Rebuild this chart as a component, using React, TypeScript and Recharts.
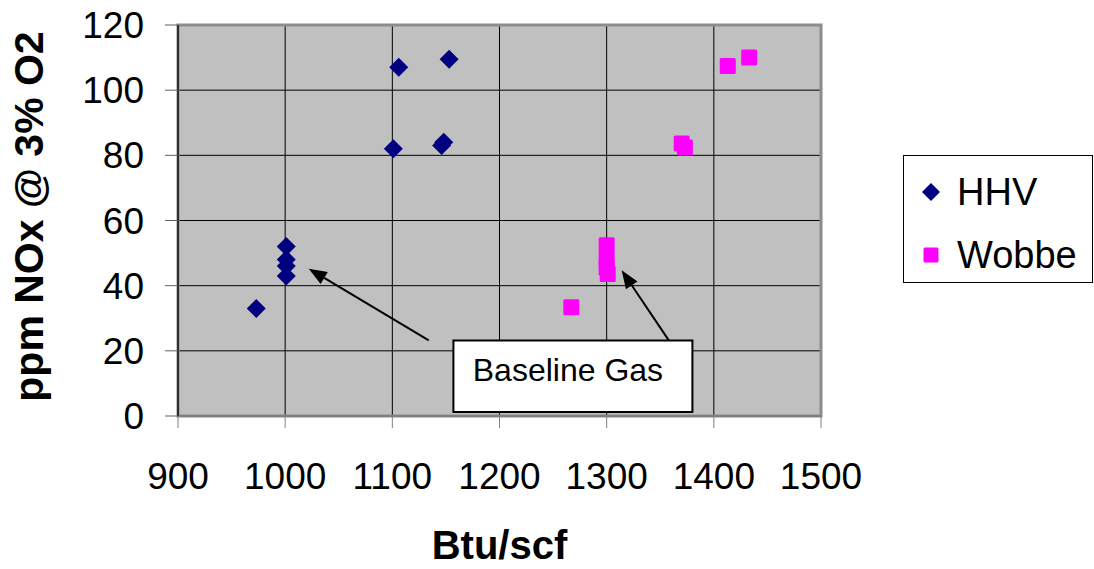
import {
  CartesianGrid, Label, Legend, ReferenceArea, ReferenceLine, Scatter, ScatterChart, XAxis, YAxis,
} from 'recharts'

const FONT = '"Liberation Sans", Arial, sans-serif'

const xTicks = [900, 1000, 1100, 1200, 1300, 1400, 1500]
const yTicks = [0, 20, 40, 60, 80, 100, 120]

const hhvPoints = [
  { x: 973, y: 33 },
  { x: 1001, y: 52 },
  { x: 1001, y: 48 },
  { x: 1001, y: 46 },
  { x: 1001, y: 43 },
  { x: 1101, y: 82 },
  { x: 1106, y: 107 },
  { x: 1146, y: 83 },
  { x: 1148, y: 84 },
  { x: 1153, y: 109.5 },
]

const wobbePoints = [
  { x: 1267, y: 33.4 },
  { x: 1300, y: 52.4 },
  { x: 1300, y: 48 },
  { x: 1300, y: 45.5 },
  { x: 1301, y: 43.6 },
  { x: 1370, y: 83.6 },
  { x: 1373, y: 82.4 },
  { x: 1413, y: 107.4 },
  { x: 1433, y: 110 },
]

// annotation: box and two arrows pointing at the baseline points
const calloutBox = { x1: 1157, x2: 1380, y1: 1.2, y2: 23.2 }
const arrows = [
  { from: { x: 1134, y: 23.2 }, to: { x: 1022, y: 45.2 } },
  { from: { x: 1358, y: 23.2 }, to: { x: 1314, y: 44.7 } },
]

const NAVY = '#000080'
const MAGENTA = '#FF00FF'

function Diamond({ cx, cy, fill, r = 9.5 }: any) {
  return <polygon points={`${cx},${cy - r} ${cx + r},${cy} ${cx},${cy + r} ${cx - r},${cy}`} fill={fill} />
}

function Square({ cx, cy, fill, s = 16 }: any) {
  return <rect x={cx - s / 2} y={cy - s / 2} width={s} height={s} rx={1.5} fill={fill} />
}

function Arrow(props: any) {
  const { x1, y1, x2, y2 } = props
  const ang = Math.atan2(y2 - y1, x2 - x1)
  const len = 18
  const w = 7
  const bx = x2 - len * Math.cos(ang)
  const by = y2 - len * Math.sin(ang)
  const px = -Math.sin(ang) * w
  const py = Math.cos(ang) * w
  return (
    <g>
      <line x1={x1} y1={y1} x2={bx} y2={by} stroke="#000" strokeWidth={2} />
      <polygon points={`${x2},${y2} ${bx + px},${by + py} ${bx - px},${by - py}`} fill="#000" />
    </g>
  )
}

function LegendBox({ payload }: any) {
  return (
    <div style={{
      width: 190, height: 128, border: '1px solid #000', boxSizing: 'border-box', background: '#fff',
      position: 'relative', fontFamily: FONT, fontSize: 38, color: '#000',
    }}>
      {(payload || []).map((entry: any, i: number) => (
        <div key={entry.value} style={{ position: 'absolute', left: 13, top: 15 + i * 63, height: 42, display: 'flex', alignItems: 'center' }}>
          <svg width={28} height={28} style={{ marginRight: 12 }}>
            {entry.type === 'diamond'
              ? <Diamond cx={14} cy={14} r={9} fill={entry.color} />
              : <Square cx={14} cy={14} s={15} fill={entry.color} />}
          </svg>
          <span>{entry.value}</span>
        </div>
      ))}
    </div>
  )
}

function YTitle({ viewBox }: any) {
  const cy = viewBox.y + viewBox.height / 2 - 4
  return (
    <text transform={`translate(43, ${cy}) rotate(-90)`} textAnchor="middle"
          fontFamily={FONT} fontSize={41} fontWeight="bold" fill="#000">
      ppm NOx @ 3% O2
    </text>
  )
}

function XTitle({ viewBox }: any) {
  const cx = viewBox.x + viewBox.width / 2
  return (
    <text x={cx} y={559} textAnchor="middle" fontFamily={FONT} fontSize={40} fontWeight="bold" fill="#000">
      Btu/scf
    </text>
  )
}

function CalloutText({ viewBox }: any) {
  return (
    <text x={viewBox.x + viewBox.width / 2 - 5} y={viewBox.y + 41} textAnchor="middle"
          fontFamily={FONT} fontSize={32} fill="#000">
      Baseline Gas
    </text>
  )
}

export default function App() {
  const tick = { fill: '#000', fontSize: 37, fontFamily: FONT }
  return (
    <div style={{ position: 'absolute', left: 0, top: 0, background: '#fff' }}>
      <ScatterChart width={1094} height={569} margin={{ top: 25, right: 273, left: 0, bottom: 0 }}>
        <CartesianGrid stroke="#000" fill="#C0C0C0" fillOpacity={1} />
        <XAxis type="number" dataKey="x" domain={[900, 1500]} ticks={xTicks} height={153}
               tick={tick} tickSize={12} tickMargin={35} tickLine={{ stroke: '#808080' }}
               axisLine={{ stroke: '#808080', strokeWidth: 2 }} interval={0}>
          <Label content={<XTitle />} />
        </XAxis>
        <YAxis type="number" dataKey="y" domain={[0, 120]} ticks={yTicks} width={178}
               tick={tick} tickSize={13} tickMargin={21} tickLine={{ stroke: '#606060' }}
               axisLine={{ stroke: '#303030', strokeWidth: 2 }} interval={0}>
          <Label content={<YTitle />} />
        </YAxis>
        <ReferenceArea x1={900} x2={1500} y1={0} y2={120} fill="none" stroke="#8c8c8c" strokeWidth={3} />
        {arrows.map((a, i) => (
          <ReferenceLine key={i} segment={[a.from, a.to]} shape={<Arrow />} />
        ))}
        <ReferenceArea {...calloutBox} fill="#fff" fillOpacity={1} stroke="#000" strokeWidth={2}
                       label={<CalloutText />} />
        <Scatter name="HHV" data={hhvPoints} fill={NAVY} legendType="diamond"
                 shape={<Diamond />} isAnimationActive={false} />
        <Scatter name="Wobbe" data={wobbePoints} fill={MAGENTA} legendType="square"
                 shape={<Square />} isAnimationActive={false} />
        <Legend layout="vertical" align="center" verticalAlign="middle" content={<LegendBox />}
                wrapperStyle={{ left: 903, top: 155, width: 190 }} />
      </ScatterChart>
    </div>
  )
}
